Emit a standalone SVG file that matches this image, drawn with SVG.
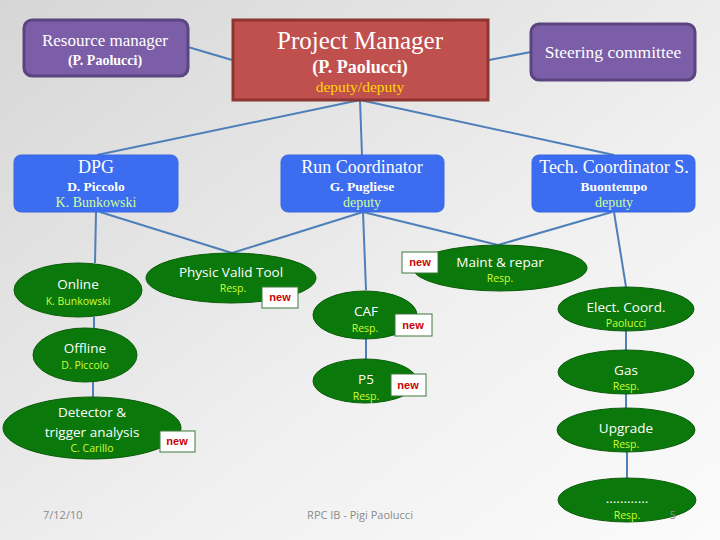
<svg xmlns="http://www.w3.org/2000/svg" width="720" height="540" viewBox="0 0 720 540">
<defs>
<linearGradient id="bg" x1="0" y1="0" x2="1" y2="1">
<stop offset="0" stop-color="#d6d6d6"/>
<stop offset="0.6" stop-color="#f0f0f0"/>
<stop offset="1" stop-color="#fbfbfb"/>
</linearGradient>
<style>
.purple{fill:#7b5ea7;stroke:#5b4580;stroke-width:3}
.red{fill:#c0504d;stroke:#8c3533;stroke-width:3}
.blue{fill:#3c6cf0;stroke:#3a66e0;stroke-width:1}
.ell{fill:#0b780b;stroke:#0a5c0a;stroke-width:1}
.newb{fill:#ffffff;stroke:#3d7a3d;stroke-width:1}
.newt{font-family:"Liberation Sans",Arial,sans-serif;font-size:11px;font-weight:bold;fill:#cc0000;text-anchor:middle}
.ser{font-family:"Liberation Serif","Times New Roman",serif;fill:#ffffff;text-anchor:middle}
.cal{font-family:"Open Sans","Noto Sans",sans-serif;fill:#ffffff;text-anchor:middle}
.yel{font-family:"Open Sans","Noto Sans",sans-serif;fill:#ccff33;text-anchor:middle;font-size:10.5px}
.lg{fill:#ccff99}
.conn line{stroke:#4f7fb8;stroke-width:2;fill:none}
.foot{font-family:"Open Sans","Noto Sans",sans-serif;fill:#8a8a8a;font-size:11px}
</style>
</defs>
<rect x="0" y="0" width="720" height="540" fill="url(#bg)"/>

<g id="connectors" class="conn">
<line x1="188" y1="47" x2="232" y2="60"/>
<line x1="489" y1="60" x2="531" y2="52"/>
<line x1="360" y1="100" x2="97" y2="155"/>
<line x1="360" y1="100" x2="362" y2="155"/>
<line x1="360" y1="100" x2="614" y2="155"/>
<line x1="96" y1="212" x2="95" y2="263"/>
<line x1="100" y1="212" x2="232" y2="253"/>
<line x1="363" y1="212" x2="232" y2="253"/>
<line x1="363" y1="212" x2="366" y2="290"/>
<line x1="363" y1="212" x2="498" y2="245"/>
<line x1="612" y1="212" x2="498" y2="245"/>
<line x1="614" y1="212" x2="626" y2="287"/>
<line x1="94" y1="317" x2="94" y2="328"/>
<line x1="93" y1="382" x2="93" y2="397"/>
<line x1="366" y1="339" x2="366" y2="360"/>
<line x1="626" y1="331" x2="626" y2="350"/>
<line x1="626" y1="394" x2="626" y2="408"/>
<line x1="627" y1="452" x2="627" y2="478"/>
</g>

<g id="resource-manager">
<rect class="purple" x="24" y="20" width="164" height="56" rx="8"/>
<text class="ser" x="105" y="46" font-size="17">Resource manager</text>
<text class="ser" x="105" y="65" font-size="14" font-weight="bold">(P. Paolucci)</text>
</g>

<g id="project-manager">
<rect class="red" x="233" y="20" width="255" height="80"/>
<text class="ser" x="360" y="49" font-size="25">Project Manager</text>
<text class="ser" x="360" y="73" font-size="18" font-weight="bold">(P. Paolucci)</text>
<text class="ser" x="360" y="92" font-size="15.5" style="fill:#ffd700">deputy/deputy</text>
</g>

<g id="steering-committee">
<rect class="purple" x="531" y="24" width="164" height="56" rx="8"/>
<text class="ser" x="613" y="58" font-size="17.5">Steering committee</text>
</g>

<g id="dpg">
<rect class="blue" x="14" y="155" width="164" height="57" rx="7"/>
<text class="ser" x="96" y="173" font-size="18">DPG</text>
<text class="ser" x="96" y="191" font-size="13.5" font-weight="bold">D. Piccolo</text>
<text class="ser lg" x="96" y="207" font-size="14">K. Bunkowski</text>
</g>

<g id="run-coordinator">
<rect class="blue" x="281" y="155" width="163" height="57" rx="7"/>
<text class="ser" x="362" y="173" font-size="18">Run Coordinator</text>
<text class="ser" x="362" y="191" font-size="13.5" font-weight="bold">G. Pugliese</text>
<text class="ser lg" x="362" y="207" font-size="14">deputy</text>
</g>

<g id="tech-coordinator">
<rect class="blue" x="532" y="155" width="163" height="57" rx="7"/>
<text class="ser" x="614" y="173" font-size="18">Tech. Coordinator S.</text>
<text class="ser" x="614" y="191" font-size="13.5" font-weight="bold">Buontempo</text>
<text class="ser lg" x="614" y="207" font-size="14">deputy</text>
</g>

<g id="online">
<ellipse class="ell" cx="78" cy="290" rx="64" ry="27"/>
<text class="cal" x="78" y="289" font-size="13.5">Online</text>
<text class="yel" x="78" y="305">K. Bunkowski</text>
</g>

<g id="offline">
<ellipse class="ell" cx="85" cy="355" rx="52" ry="27"/>
<text class="cal" x="85" y="353" font-size="13.5">Offline</text>
<text class="yel" x="85" y="369">D. Piccolo</text>
</g>

<g id="detector">
<ellipse class="ell" cx="92" cy="428" rx="89" ry="31"/>
<text class="cal" x="92" y="417" font-size="13.5">Detector &amp;</text>
<text class="cal" x="92" y="437" font-size="13.5">trigger analysis</text>
<text class="yel" x="92" y="452">C. Carillo</text>
<rect class="newb" x="160" y="431" width="35" height="21"/>
<text class="newt" x="177" y="445">new</text>
</g>

<g id="physic-valid-tool">
<ellipse class="ell" cx="231" cy="278" rx="85" ry="25"/>
<text class="cal" x="231" y="277" font-size="13.5">Physic Valid Tool</text>
<text class="yel" x="233" y="292">Resp.</text>
<rect class="newb" x="262" y="287" width="36" height="21"/>
<text class="newt" x="280" y="301">new</text>
</g>

<g id="caf">
<ellipse class="ell" cx="365" cy="315" rx="52" ry="24"/>
<text class="cal" x="366" y="316" font-size="13.5">CAF</text>
<text class="yel" x="365" y="332">Resp.</text>
<rect class="newb" x="395" y="314" width="37" height="22"/>
<text class="newt" x="413" y="329">new</text>
</g>

<g id="p5">
<ellipse class="ell" cx="365" cy="381" rx="52" ry="22"/>
<text class="cal" x="366" y="384" font-size="13.5">P5</text>
<text class="yel" x="366" y="400">Resp.</text>
<rect class="newb" x="391" y="374" width="35" height="22"/>
<text class="newt" x="408" y="389">new</text>
</g>

<g id="maint-repar">
<ellipse class="ell" cx="500" cy="268" rx="87" ry="23"/>
<text class="cal" x="500" y="267" font-size="13.5">Maint &amp; repar</text>
<text class="yel" x="500" y="282">Resp.</text>
<rect class="newb" x="402" y="252" width="36" height="21"/>
<text class="newt" x="420" y="266">new</text>
</g>

<g id="elect-coord">
<ellipse class="ell" cx="626" cy="309" rx="68" ry="22"/>
<text class="cal" x="626" y="312" font-size="13.5">Elect. Coord.</text>
<text class="yel" x="626" y="327">Paolucci</text>
</g>

<g id="gas">
<ellipse class="ell" cx="626" cy="372" rx="68" ry="22"/>
<text class="cal" x="626" y="375" font-size="13.5">Gas</text>
<text class="yel" x="626" y="390">Resp.</text>
</g>

<g id="upgrade">
<ellipse class="ell" cx="626" cy="430" rx="69" ry="22"/>
<text class="cal" x="626" y="433" font-size="13.5">Upgrade</text>
<text class="yel" x="626" y="448">Resp.</text>
</g>

<g id="more">
<ellipse class="ell" cx="627" cy="500" rx="69" ry="22"/>
<text class="cal" x="627" y="503" font-size="13.5">............</text>
<text class="yel" x="627" y="519">Resp.</text>
</g>

<g id="footer">
<text class="foot" x="43" y="519">7/12/10</text>
<text class="foot" x="360" y="519" text-anchor="middle">RPC IB - Pigi Paolucci</text>
<text class="foot" x="673" y="519" text-anchor="middle">5</text>
</g>
</svg>
